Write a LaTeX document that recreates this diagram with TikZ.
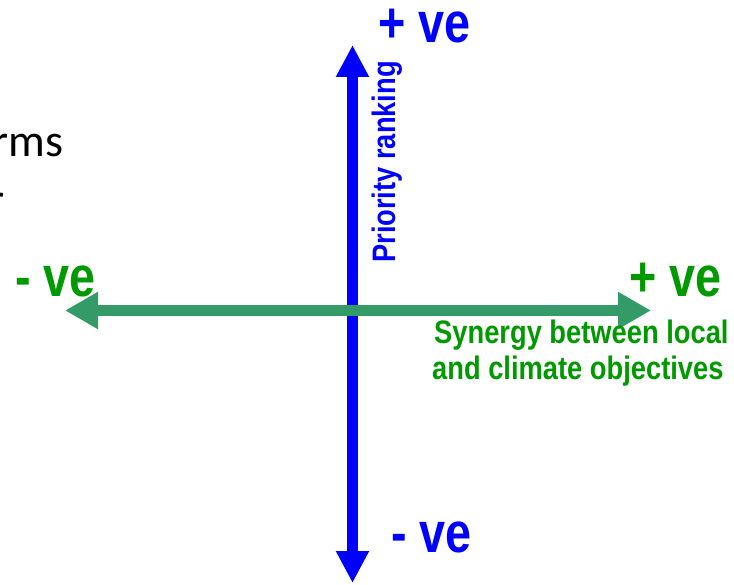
\documentclass[tikz,border=0pt]{standalone}
\usepackage{fontspec}
\usetikzlibrary{arrows.meta}
\newfontfamily\narrowfont[FakeStretch=0.84]{Liberation Sans Bold}
\newfontfamily\bignarrowfont[FakeStretch=0.82]{Liberation Sans Bold}
\newfontfamily\calfont{Carlito}
\definecolor{axisblue}{RGB}{0,0,255}
\definecolor{axisgreen}{RGB}{52,154,104}
\definecolor{labelgreen}{RGB}{0,153,0}
\begin{document}
\begin{tikzpicture}[x=1pt,y=-1pt,
  bigsign/.style={inner sep=0pt,font=\bignarrowfont\fontsize{57}{60}\selectfont},
  axislabel/.style={inner sep=0pt,font=\narrowfont\fontsize{32.5}{36}\selectfont},
  cuttext/.style={inner sep=0pt,font=\calfont\fontsize{46}{56}\selectfont,text=black}]
\useasboundingbox (0,0) rectangle (734,585);
% axes end points
\coordinate (vtop) at (352.5,45);
\coordinate (vbot) at (352.5,583);
\coordinate (hleft) at (65,310.5);
\coordinate (hright) at (651,310.5);
\draw[axisblue,line width=10.5pt,{Triangle[length=32pt,width=31pt]}-{Triangle[length=32pt,width=31pt]}] (vbot) -- (vtop);
\draw[axisgreen,line width=11pt,{Triangle[length=33pt,width=35pt]}-{Triangle[length=33pt,width=35pt]}] (hleft) -- (hright);
% labels
\node[bigsign,text=axisblue,anchor=base west] (bplus) at (378,43) {+ ve};
\node[bigsign,text=axisblue,anchor=base west] (bminus) at (391,552) {- ve};
\node[bigsign,text=labelgreen,anchor=base east] (gplus) at (722,297) {+ ve};
\node[bigsign,text=labelgreen,anchor=base west] (gminus) at (15,297) {- ve};
\node[axislabel,text=axisblue,rotate=90,anchor=base west] (prio) at (395,263) {Priority ranking};
\node[axislabel,text=labelgreen,anchor=base west] (syn1) at (434,344) {Synergy between local};
\node[axislabel,text=labelgreen,anchor=base west] (syn2) at (432,380) {and climate objectives};
% cut-off text at left edge
\node[cuttext,anchor=base east] (rms) at (63.5,157) {rms};
\node[cuttext,anchor=base east] (rfrag) at (4.5,216) {r};
\end{tikzpicture}
\end{document}
